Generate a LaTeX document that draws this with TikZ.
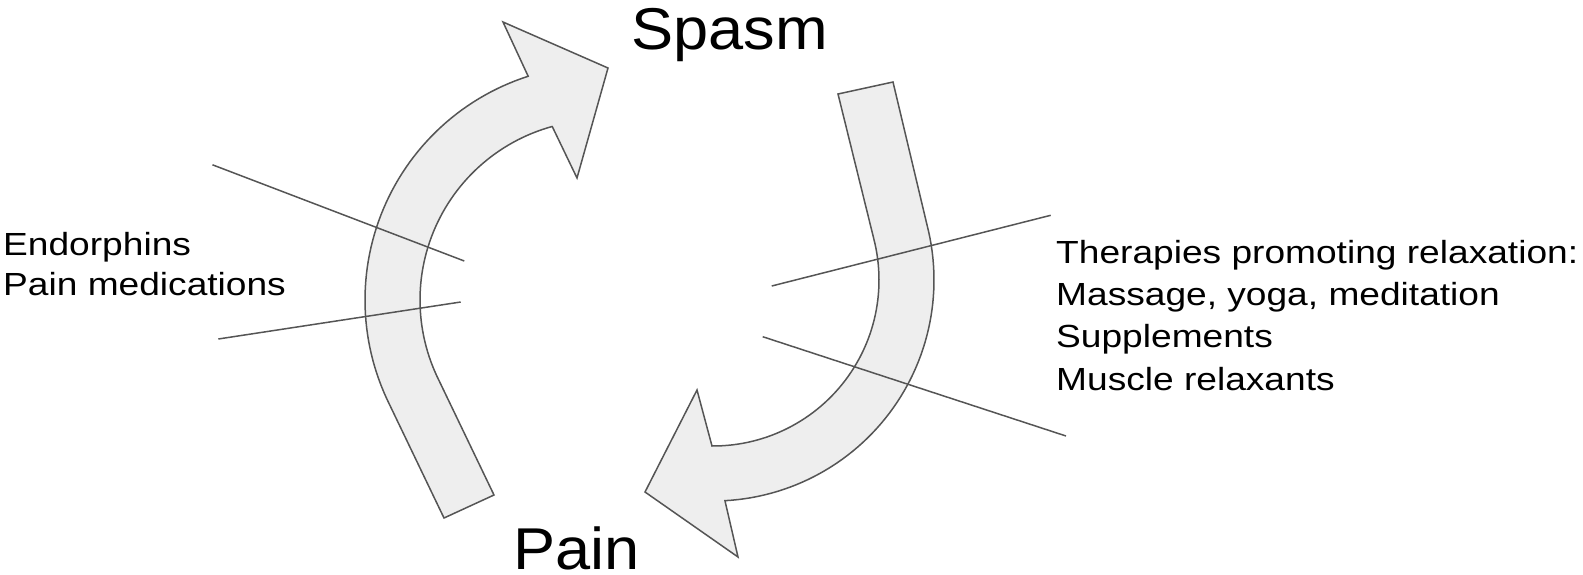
\documentclass[tikz,border=0pt]{standalone}
\usepackage{fontspec}
\setmainfont{Liberation Sans}
\newfontfamily\lblfont{Liberation Sans}[FakeStretch=1.16]
\newfontfamily\ttlfont{Liberation Sans}[FakeStretch=1.07]
\definecolor{edge}{HTML}{555555}
\definecolor{shade}{HTML}{EEEEEE}
\tikzset{
  arrowshape/.style={draw=edge, fill=shade, line width=1.5pt, line join=miter},
  tick/.style={draw=edge, line width=1.5pt},
  lbl/.style={inner sep=0pt, anchor=base west, font=\lblfont\fontsize{32}{38}\selectfont},
  ttl/.style={inner sep=0pt, anchor=base west, font=\ttlfont\fontsize{59}{66}\selectfont},
}
\begin{document}
\begin{tikzpicture}[x=1pt, y=-1pt]
\useasboundingbox (0,0) rectangle (1583,574);

% left curved arrow (Pain -> Spasm)
\path[arrowshape] (444,518)
  -- plot[domain=155:252.2, samples=60] ({600+235*cos(\x)},{300+235*sin(\x)})
  -- (503,22) -- (608,68) -- (577,178) -- (552,126)
  -- plot[domain=254.6:155, samples=60] ({600+180*cos(\x)},{300+180*sin(\x)})
  -- (494,495) -- cycle;

% right curved arrow (Spasm -> Pain)
\path[arrowshape] (838,94) -- (893,82)
  -- plot[domain=-14.5:86.9, samples=60] ({713+221*cos(\x)},{280+221*sin(\x)})
  -- (738,557) -- (645,492) -- (697,390) -- (712,446)
  -- plot[domain=90.3:-14.5, samples=60] ({713+166*cos(\x)},{280+166*sin(\x)})
  -- cycle;

% crossing lines
\coordinate (la1) at (212.5,164.8);
\coordinate (la2) at (464.3,261);
\coordinate (lb1) at (218.3,339);
\coordinate (lb2) at (460.7,302);
\coordinate (ra1) at (771.7,286);
\coordinate (ra2) at (1050.7,215.3);
\coordinate (rb1) at (762.7,336.7);
\coordinate (rb2) at (1066,436);
\draw[tick] (la1) -- (la2);
\draw[tick] (lb1) -- (lb2);
\draw[tick] (ra1) -- (ra2);
\draw[tick] (rb1) -- (rb2);

% titles
\node[ttl] (spasm) at (631,49.3) {Spasm};
\node[ttl] (pain) at (513,569) {Pain};

% left labels
\node[lbl] (endo) at (3,255) {Endorphins};
\node[lbl] (painmed) at (3,295.5) {Pain medications};

% right labels
\node[lbl] (ther) at (1056,263.3) {Therapies promoting relaxation:};
\node[lbl] (mass) at (1056,305.7) {Massage, yoga, meditation};
\node[lbl] (supp) at (1056,347.5) {Supplements};
\node[lbl] (musc) at (1056,390) {Muscle relaxants};
\end{tikzpicture}
\end{document}
